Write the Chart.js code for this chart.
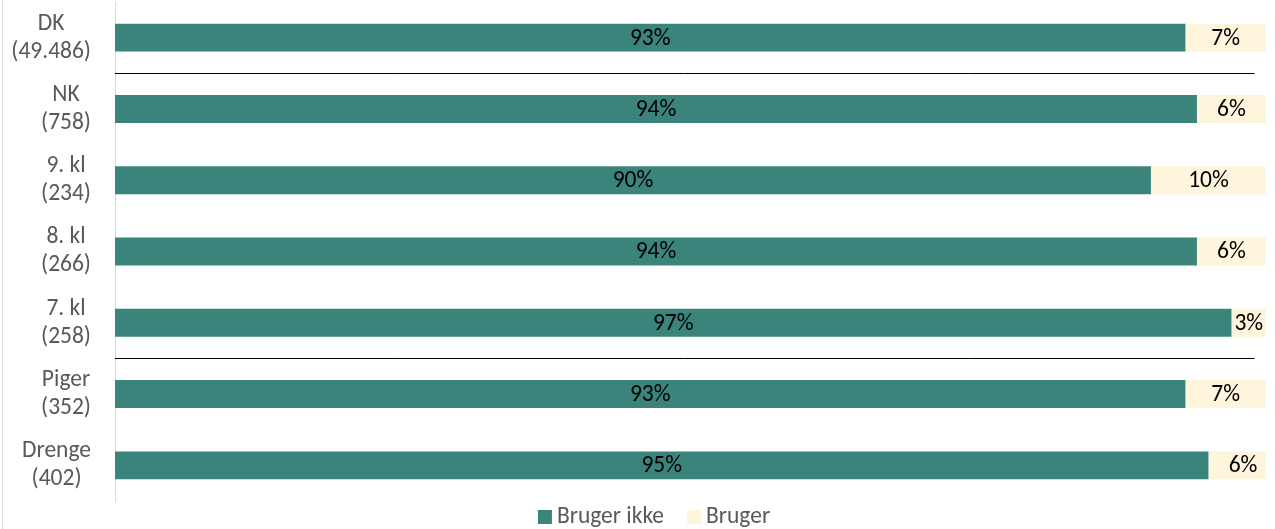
<!DOCTYPE html>
<html>
<head>
<meta charset="utf-8">
<script src="https://cdn.jsdelivr.net/npm/chart.js@4.4.1/dist/chart.umd.min.js"></script>
<style>
  html, body { margin: 0; padding: 0; background: #ffffff; }
  #wrap { position: relative; width: 1275px; height: 529px; overflow: hidden; }
  #frame { position: absolute; left: 2px; top: 0; width: 1px; height: 529px; background: #d9d9d9; }
  canvas { position: absolute; left: 0; top: 0; }
</style>
</head>
<body>
<div id="wrap">
  <div id="frame"></div>
  <canvas id="c" width="1275" height="529"></canvas>
</div>
<script>
// Groups (top to bottom) and number of respondents in each
const groups = ['DK', 'NK', '9. kl', '8. kl', '7. kl', 'Piger', 'Drenge'];
const respondents = ['(49.486)', '(758)', '(234)', '(266)', '(258)', '(352)', '(402)'];

// Shares in percent
const brugerIkke = [93, 94, 90, 94, 97, 93, 95];
const bruger = [7, 6, 10, 6, 3, 7, 6];

const seriesNames = ['Bruger ikke', 'Bruger'];
const seriesColors = ['#3a847c', '#fff4dc'];

// Horizontal rules are drawn below these groups
const dividerAfter = [0, 4];

const FONT = 'Carlito, Calibri, Lato, sans-serif';
const FONT_SIZE = 23.5;
const GREY = '#595959';

// Two-line category labels, each block centred on itself and right-aligned to the axis
const categoryLabels = {
  id: 'categoryLabels',
  afterDraw(chart) {
    const { ctx, chartArea, scales: { y } } = chart;
    ctx.save();
    ctx.font = FONT_SIZE + 'px ' + FONT;
    ctx.fillStyle = GREY;
    ctx.textAlign = 'center';
    ctx.textBaseline = 'middle';
    const lineH = 28;
    chart.data.labels.forEach((lines, i) => {
      const w = Math.max(...lines.map(t => ctx.measureText(t).width));
      const cx = chartArea.left - 24 - w / 2;
      const cy = y.getPixelForValue(i);
      lines.forEach((t, j) => {
        ctx.fillText(t, cx, cy + (j - (lines.length - 1) / 2) * lineH);
      });
    });
    ctx.restore();
  }
};

// Rules separating DK, the grades and the genders
const dividers = {
  id: 'dividers',
  afterDatasetsDraw(chart) {
    const { ctx, chartArea, scales: { x, y } } = chart;
    ctx.save();
    ctx.strokeStyle = '#000000';
    ctx.lineWidth = 1;
    dividerAfter.forEach(k => {
      const yy = Math.round((y.getPixelForValue(k) + y.getPixelForValue(k + 1)) / 2) + 0.5;
      ctx.beginPath();
      ctx.moveTo(chartArea.left, yy);
      ctx.lineTo(x.getPixelForValue(99), yy);
      ctx.stroke();
    });
    ctx.restore();
  }
};

// Percent labels centred in each bar segment
const valueLabels = {
  id: 'valueLabels',
  afterDatasetsDraw(chart) {
    const { ctx } = chart;
    ctx.save();
    ctx.font = FONT_SIZE + 'px ' + FONT;
    ctx.fillStyle = '#000000';
    ctx.textAlign = 'center';
    ctx.textBaseline = 'middle';
    chart.data.datasets.forEach((ds, d) => {
      chart.getDatasetMeta(d).data.forEach((bar, i) => {
        const cx = (bar.x + bar.base) / 2;
        ctx.fillText(ds.data[i] + '%', cx, bar.y + 1);
      });
    });
    ctx.restore();
  }
};

// Legend row below the plot
const legendRow = {
  id: 'legendRow',
  afterDraw(chart) {
    const { ctx } = chart;
    const centerX = 654, cy = chart.height - 12;
    const box = 14, textGap = 5, itemGap = 23;
    ctx.save();
    ctx.font = FONT_SIZE + 'px ' + FONT;
    ctx.textBaseline = 'middle';
    ctx.textAlign = 'left';
    const items = chart.data.datasets.map(ds => ({
      text: ds.label, color: ds.backgroundColor, w: ctx.measureText(ds.label).width
    }));
    const total = items.reduce((s, it) => s + box + textGap + it.w, 0) + itemGap * (items.length - 1);
    let xx = centerX - total / 2;
    items.forEach(it => {
      ctx.fillStyle = it.color;
      ctx.fillRect(xx, cy - box / 2, box, box);
      xx += box + textGap;
      ctx.fillStyle = GREY;
      ctx.fillText(it.text, xx, cy);
      xx += it.w + itemGap;
    });
    ctx.restore();
  }
};

new Chart(document.getElementById('c'), {
  type: 'bar',
  data: {
    labels: groups.map((g, i) => [g, respondents[i]]),
    datasets: [
      { label: seriesNames[0], data: brugerIkke, backgroundColor: seriesColors[0] },
      { label: seriesNames[1], data: bruger, backgroundColor: seriesColors[1] }
    ]
  },
  options: {
    indexAxis: 'y',
    responsive: false,
    animation: false,
    devicePixelRatio: 1,
    layout: { padding: { left: 0, right: 9, top: 2, bottom: 28 } },
    datasets: { bar: { categoryPercentage: 1, barPercentage: 0.392, borderWidth: 0 } },
    scales: {
      x: { stacked: true, min: 0, max: 100, display: false },
      y: {
        stacked: true,
        grid: { display: false },
        ticks: { display: false },
        border: { display: true, color: '#d9d9d9', width: 1 },
        afterFit(scale) { scale.width = 115; }
      }
    },
    plugins: {
      legend: { display: false },
      tooltip: { enabled: false },
      title: { display: false }
    }
  },
  plugins: [categoryLabels, dividers, valueLabels, legendRow]
});
</script>
</body>
</html>
